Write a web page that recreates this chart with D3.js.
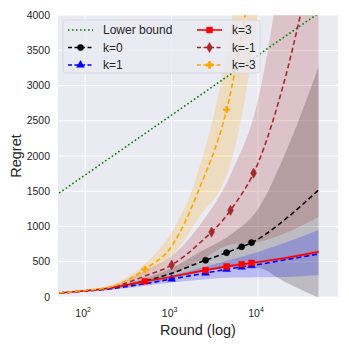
<!DOCTYPE html>
<meta charset="utf-8">
<script src="https://d3js.org/d3.v7.min.js"></script>
<style>
  body { margin: 0; background: #fff; }
  text { font-family: "Liberation Sans", Arial, sans-serif; fill: #262626; }
</style>
<body>
<div id="chart"></div>
<script>
// rounds where every curve is sampled
var rounds = [50, 100, 200, 500, 1000, 2000, 5000, 10000, 20000, 50000];

// lower bound (straight in log x)
var lowerBound = [1475, 1731, 1987, 2325, 2581, 2837, 3175, 3431, 3687, 4025];

// mean regret per k
var k0  = [57, 88, 130, 230, 335, 480, 660, 820, 1090, 1518];
var k1  = [57, 84, 118, 190, 255, 320, 405, 460, 525, 610];
var k3  = [57, 88, 128, 225, 288, 360, 445, 496, 550, 640];
var km1 = [57, 88, 135, 300, 454, 740, 1260, 1900, 3050, 5200];
var km3 = [57, 92, 145, 400, 720, 1480, 3000, 5300, 9000, 16000];

// shaded bands (low / high)
var k0Lo  = [52, 80, 115, 190, 260, 340, 420, 410, 220, -10];
var k0Hi  = [62, 96, 145, 270, 410, 620, 900, 1250, 2000, 3262];
var k1Lo  = [54, 77, 103, 160, 205, 240, 275, 280, 285, 312];
var k1Hi  = [60, 91, 133, 220, 305, 400, 535, 640, 765, 950];
var k3Lo  = [55, 85, 123, 215, 275, 345, 428, 476, 528, 612];
var k3Hi  = [59, 91, 133, 235, 301, 375, 462, 516, 572, 668];
var km1Lo = [52, 78, 115, 220, 330, 500, 750, 780, 900, 1135];
var km1Hi = [62, 98, 155, 380, 580, 980, 1780, 2800, 5000, 9265];
var km3Lo = [52, 82, 130, 330, 580, 1100, 1950, 4000, 7000, 12000];
var km3Hi = [63, 103, 175, 480, 920, 1750, 3950, 7000, 12000, 22000];

// rounds where markers sit
var k0Marks  = [2470, 4320, 6450, 8400];
var k1Marks  = [1000, 2470, 4320, 6450, 8400];
var k3Marks  = [490, 2470, 4320, 6450, 8400];
var km1Marks = [1000, 2900, 4800, 8870];
var km3Marks = [490, 4330];

var yTicks = [0, 500, 1000, 1500, 2000, 2500, 3000, 3500, 4000];
var xTicks = [100, 1000, 10000];

var width = 349, height = 349;
var pLeft = 58, pRight = 338, pTop = 15, pBottom = 297;

var svg = d3.select("#chart").append("svg")
  .attr("width", width).attr("height", height);

var x = d3.scaleLog().domain([48.5, 84000]).range([pLeft, pRight]);
var y = d3.scaleLinear().domain([0, 4000]).range([pBottom, pTop]);

svg.append("rect")
  .attr("x", pLeft).attr("y", pTop)
  .attr("width", pRight - pLeft).attr("height", pBottom - pTop)
  .attr("fill", "#eaeaf2");

svg.append("clipPath").attr("id", "clip")
  .append("rect")
  .attr("x", pLeft).attr("y", pTop)
  .attr("width", pRight - pLeft).attr("height", pBottom - pTop);

// grid
svg.selectAll(".gy").data(yTicks).enter().append("line")
  .attr("x1", pLeft).attr("x2", pRight)
  .attr("y1", d => y(d)).attr("y2", d => y(d))
  .attr("stroke", "#fff").attr("stroke-width", 1);
svg.selectAll(".gx").data(xTicks).enter().append("line")
  .attr("x1", d => x(d)).attr("x2", d => x(d))
  .attr("y1", pTop).attr("y2", pBottom)
  .attr("stroke", "#fff").attr("stroke-width", 1);

var series = [
  {name: "k=0",  color: "black", mean: k0,  lo: k0Lo,  hi: k0Hi,  marks: k0Marks,  dash: "5,3", marker: "circle"},
  {name: "k=1",  color: "blue",  mean: k1,  lo: k1Lo,  hi: k1Hi,  marks: k1Marks,  dash: "5,3", marker: "triangle"},
  {name: "k=3",  color: "red",   mean: k3,  lo: k3Lo,  hi: k3Hi,  marks: k3Marks,  dash: null,  marker: "square"},
  {name: "k=-1", color: "brown", mean: km1, lo: km1Lo, hi: km1Hi, marks: km1Marks, dash: "5,3", marker: "diamond"},
  {name: "k=-3", color: "orange",mean: km3, lo: km3Lo, hi: km3Hi, marks: km3Marks, dash: "5,3", marker: "plus"}
];

var plot = svg.append("g").attr("clip-path", "url(#clip)");

var line = d3.line()
  .x(d => x(d[0])).y(d => y(d[1]))
  .curve(d3.curveMonotoneX);

var area = d3.area()
  .x(d => x(d[0])).y0(d => y(d[1])).y1(d => y(d[2]))
  .curve(d3.curveMonotoneX);

// bands under everything
series.forEach(function(s) {
  plot.append("path")
    .datum(rounds.map((t, i) => [t, s.lo[i], s.hi[i]]))
    .attr("d", area)
    .attr("fill", s.color)
    .attr("fill-opacity", 0.2);
});

// lower bound
plot.append("path")
  .datum(rounds.map((t, i) => [t, lowerBound[i]]))
  .attr("d", line)
  .attr("fill", "none")
  .attr("stroke", "green")
  .attr("stroke-width", 1.6)
  .attr("stroke-dasharray", "1.6,2.4");

function markerSym(type) {
  var sym = {circle: d3.symbolCircle, triangle: d3.symbolTriangle, square: d3.symbolSquare,
             diamond: d3.symbolDiamond, plus: d3.symbolCross}[type];
  var size = {circle: 30, triangle: 26, square: 34, diamond: 30, plus: 28}[type];
  return d3.symbol().type(sym).size(size)();
}

series.forEach(function(s) {
  var pts = rounds.map((t, i) => [t, s.mean[i]]);
  var path = plot.append("path")
    .datum(pts)
    .attr("d", line)
    .attr("fill", "none")
    .attr("stroke", s.color)
    .attr("stroke-width", 1.6);
  if (s.dash) path.attr("stroke-dasharray", s.dash);

  // markers sit on the drawn curve
  var node = path.node();
  var total = node.getTotalLength();
  s.marks.forEach(function(t) {
    var px = x(t);
    var lo = 0, hi = total, p;
    for (var it = 0; it < 30; it++) {
      var mid = (lo + hi) / 2;
      p = node.getPointAtLength(mid);
      if (p.x < px) lo = mid; else hi = mid;
    }
    plot.append("path")
      .attr("d", markerSym(s.marker))
      .attr("transform", "translate(" + p.x + "," + p.y + ")")
      .attr("fill", s.color)
      .attr("stroke", s.marker === "plus" ? "none" : s.color)
      .attr("stroke-width", 0.5);
  });
});

// y axis labels
svg.selectAll(".yl").data(yTicks).enter().append("text")
  .attr("x", pLeft - 8).attr("y", d => y(d))
  .attr("dy", "0.35em")
  .attr("text-anchor", "end")
  .attr("font-size", "10.5px")
  .text(d => d);

// x axis labels 10^n
xTicks.forEach(function(t) {
  var txt = svg.append("text")
    .attr("x", x(t) - 2).attr("y", 317)
    .attr("text-anchor", "middle")
    .attr("font-size", "10.5px");
  txt.append("tspan").text("10");
  txt.append("tspan").attr("dy", -5).attr("font-size", "7px").text(Math.round(Math.log10(t)));
});

svg.append("text")
  .attr("x", (pLeft + pRight) / 2).attr("y", 335)
  .attr("text-anchor", "middle")
  .attr("font-size", "14.5px")
  .text("Round (log)");

svg.append("text")
  .attr("transform", "translate(21," + ((pTop + pBottom) / 2) + ") rotate(-90)")
  .attr("text-anchor", "middle")
  .attr("font-size", "14.5px")
  .text("Regret");

// legend
var lg = svg.append("g");
lg.append("rect")
  .attr("x", 63).attr("y", 20).attr("width", 197).attr("height", 53)
  .attr("rx", 3)
  .attr("fill", "#eaeaf2").attr("fill-opacity", 0.8)
  .attr("stroke", "#d4d4dc").attr("stroke-width", 0.8);

var legendItems = [
  {name: "Lower bound", color: "green", dash: "1.6,2.4", col: 0, row: 0},
  {name: "k=0", s: series[0], col: 0, row: 1},
  {name: "k=1", s: series[1], col: 0, row: 2},
  {name: "k=3", s: series[2], col: 1, row: 0},
  {name: "k=-1", s: series[3], col: 1, row: 1},
  {name: "k=-3", s: series[4], col: 1, row: 2}
];

legendItems.forEach(function(it) {
  var x0 = it.col === 0 ? 68 : 197;
  var yy = 30 + it.row * 17.5;
  var color = it.s ? it.s.color : it.color;
  var dash = it.s ? it.s.dash : it.dash;
  var l = lg.append("line")
    .attr("x1", x0).attr("x2", x0 + 25)
    .attr("y1", yy).attr("y2", yy)
    .attr("stroke", color).attr("stroke-width", 1.6);
  if (dash) l.attr("stroke-dasharray", it.s ? "4,2.5" : dash);
  if (it.s) {
    lg.append("path")
      .attr("d", markerSym(it.s.marker))
      .attr("transform", "translate(" + (x0 + 12.5) + "," + yy + ")")
      .attr("fill", color).attr("stroke", color).attr("stroke-width", 0.5);
  }
  lg.append("text")
    .attr("x", x0 + 35).attr("y", yy).attr("dy", "0.35em")
    .attr("font-size", "12px")
    .text(it.name);
});
</script>
</body>
